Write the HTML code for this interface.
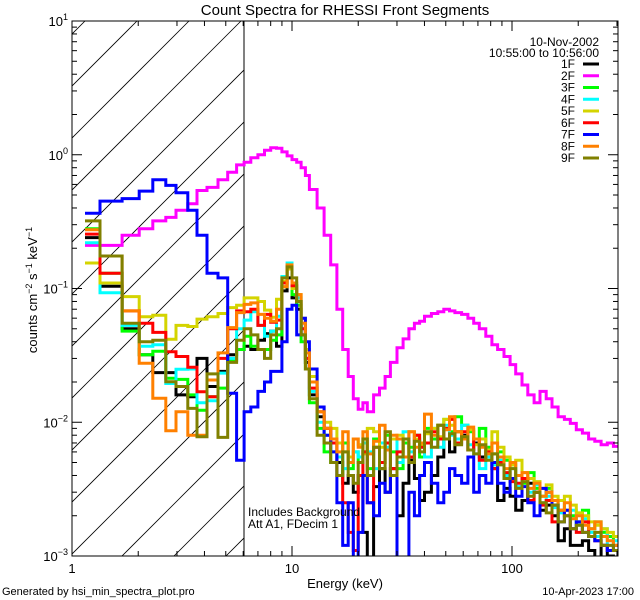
<!DOCTYPE html>
<html><head><meta charset="utf-8">
<style>
html,body{margin:0;padding:0;background:#fff;}
svg{display:block;font-family:"Liberation Sans",sans-serif;}
</style></head>
<body>
<svg id="chart" width="640" height="600" viewBox="0 0 640 600" xmlns="http://www.w3.org/2000/svg">
<defs><clipPath id="plotclip"><rect x="72" y="21" width="546" height="535"/></clipPath>
<clipPath id="hatchclip"><rect x="72" y="21" width="172" height="535"/></clipPath></defs>
<g id="hatch" clip-path="url(#hatchclip)"></g>
<line x1="244" y1="21" x2="244" y2="556" stroke="#000" stroke-width="1"/>
<g id="series" clip-path="url(#plotclip)"></g>
<rect x="72" y="21" width="546" height="535" fill="none" stroke="#000" stroke-width="1"/>
<g id="ticks"></g>
<text x="345" y="15" font-size="15" text-anchor="middle">Count Spectra for RHESSI Front Segments</text>
<text x="345" y="588" font-size="13" text-anchor="middle">Energy (keV)</text>
<text transform="translate(37,290) rotate(-90)" font-size="13" text-anchor="middle">counts cm<tspan dy="-5" font-size="9">−2</tspan><tspan dy="5"> s</tspan><tspan dy="-5" font-size="9">−1</tspan><tspan dy="5"> keV</tspan><tspan dy="-5" font-size="9">−1</tspan></text>
<text x="2" y="595" font-size="11">Generated by hsi_min_spectra_plot.pro</text>
<text x="634" y="595" font-size="11" text-anchor="end">10-Apr-2023 17:00</text>
<text x="248" y="516" font-size="12">Includes Background</text>
<text x="248" y="528" font-size="12">Att A1, FDecim  1</text>
<text x="599" y="46" font-size="12" text-anchor="end">10-Nov-2002</text>
<text x="599" y="57" font-size="12" text-anchor="end">10:55:00 to 10:56:00</text>
<g id="legend"></g>
</svg>
<script>
const edges=[1.146,1.34,1.69,2.02,2.33,2.67,2.97,3.36,3.70,4.11,4.61,5.1,5.6,6.06,
6.5,7,7.5,8,8.5,9,9.5,10,10.5,11,11.5,12,13,14,15,16,17,18,19,20,
21,22,23.5,25,26.5,28,30,32,34,36,38,40,43,46,49,52,55,59,63,67,71,76,81,86,92,98,104,111,118,126,134,143,152,162,173,184,196,209,223,238,254,271,289,308,330];
const seriesNames=["1F","2F","3F","4F","5F","6F","7F","8F","9F"];
const seriesColors=["#000000","#ff00ff","#00ff00","#00ffff","#d4d400","#ff0000","#0000ff","#ff8000","#808000"];
const v1F=[0.24,0.104,0.05,0.032,0.0235,0.0235,0.016,0.0155,0.030,0.0185,0.024,0.032,0.035,
0.037,0.035,0.041,0.046,0.048,0.037,0.096,0.12,0.085,0.07,0.045,0.028,0.016,0.011,0.009,0.007,0.005,0.0035,0.004,0.003,
0.004,0.0015,0.0009,0.0033,0.0045,0.003,0.0045,0.002,0.0035,0.0052,0.0038,0.0026,0.003,0.004,0.0055,0.0075,0.006,0.0085,0.008,0.0062,0.007,0.0055,0.0062,0.0045,0.0026,0.0032,0.0028,0.0022,0.0026,0.0035,0.003,0.0022,0.0024,0.002,0.0013,0.0016,0.0012,0.0012,0.0013,0.0011,0.0009,0.0012,0.001,0.0009,0.0008];
const v2F=[0.21,0.21,0.25,0.28,0.32,0.34,0.385,0.43,0.54,0.57,0.65,0.74,0.84,
0.88,0.95,1.0,1.08,1.13,1.12,1.05,0.98,0.92,0.88,0.8,0.7,0.55,0.4,0.25,0.15,0.07,0.035,0.022,0.015,
0.0125,0.014,0.012,0.016,0.018,0.022,0.028,0.036,0.042,0.05,0.055,0.057,0.062,0.065,0.067,0.07,0.068,0.066,0.064,0.06,0.055,0.05,0.044,0.038,0.035,0.031,0.027,0.023,0.019,0.016,0.014,0.017,0.015,0.013,0.011,0.0105,0.0098,0.0088,0.0083,0.0075,0.0072,0.0068,0.0070,0.0066,0.0062];
const v3F=[0.28,0.13,0.048,0.032,0.034,0.0213,0.0209,0.016,0.0123,0.0155,0.018,0.029,0.035,
0.044,0.037,0.035,0.035,0.041,0.045,0.103,0.14,0.09,0.075,0.04,0.025,0.014,0.009,0.006,0.005,0.004,0.007,0.0045,0.006,
0.005,0.006,0.0045,0.0075,0.005,0.008,0.006,0.0045,0.007,0.0065,0.008,0.0055,0.009,0.0075,0.0095,0.0105,0.0085,0.011,0.0095,0.0085,0.0075,0.009,0.0065,0.0058,0.006,0.0052,0.0048,0.004,0.0035,0.0042,0.0032,0.0028,0.0032,0.0024,0.0026,0.0022,0.002,0.0018,0.0022,0.0016,0.0018,0.0015,0.0014,0.0012,0.0011];
const v4F=[0.22,0.093,0.053,0.037,0.038,0.0195,0.0249,0.025,0.014,0.0145,0.0233,0.030,0.050,
0.058,0.067,0.053,0.044,0.048,0.062,0.123,0.155,0.105,0.085,0.05,0.03,0.017,0.01,0.008,0.006,0.0055,0.0045,0.005,0.006,
0.0055,0.007,0.006,0.0045,0.007,0.0065,0.0075,0.005,0.0085,0.006,0.0075,0.0065,0.0055,0.009,0.0065,0.0095,0.008,0.0075,0.0095,0.0068,0.0058,0.0045,0.0055,0.0048,0.0052,0.004,0.0045,0.0033,0.0038,0.003,0.0034,0.0025,0.0028,0.0023,0.0021,0.002,0.0022,0.0017,0.0019,0.0015,0.0014,0.0016,0.0012,0.0013,0.0011];
const v5F=[0.155,0.11,0.087,0.0615,0.063,0.0417,0.053,0.052,0.059,0.0615,0.065,0.072,0.075,
0.085,0.085,0.08,0.069,0.061,0.083,0.113,0.14,0.1,0.09,0.06,0.035,0.022,0.013,0.01,0.009,0.007,0.006,0.0055,0.0075,
0.0068,0.0058,0.009,0.0085,0.0065,0.007,0.0075,0.008,0.0055,0.0085,0.0075,0.0068,0.0082,0.009,0.0078,0.0105,0.0095,0.0085,0.0078,0.0088,0.0068,0.0075,0.0062,0.0085,0.0065,0.0055,0.0048,0.0052,0.0042,0.0038,0.0036,0.0032,0.0034,0.0028,0.0026,0.0028,0.0024,0.0021,0.002,0.0018,0.0017,0.0016,0.0015,0.0014,0.0012];
const v6F=[0.255,0.13,0.068,0.055,0.047,0.0337,0.031,0.0258,0.0169,0.0155,0.030,0.050,0.068,
0.067,0.07,0.053,0.064,0.056,0.058,0.11,0.145,0.105,0.08,0.05,0.03,0.018,0.012,0.009,0.007,0.004,0.0025,0.0015,0.0011,
0.004,0.006,0.0025,0.0065,0.005,0.007,0.0045,0.006,0.0075,0.0055,0.008,0.0065,0.007,0.0085,0.0075,0.009,0.0105,0.007,0.0085,0.0062,0.0075,0.0052,0.006,0.0045,0.005,0.0042,0.0036,0.0035,0.0038,0.0026,0.003,0.0024,0.0026,0.0018,0.0022,0.002,0.0016,0.0015,0.0018,0.0014,0.0013,0.0012,0.0011,0.0011,0.001];
const v7F=[0.365,0.45,0.47,0.535,0.65,0.59,0.52,0.385,0.25,0.13,0.12,0.0165,0.0052,
0.012,0.013,0.017,0.02,0.024,0.024,0.04,0.07,0.075,0.045,0.06,0.04,0.025,0.013,0.008,0.006,0.0025,0.0012,0.0025,0.0009,
0.0015,0.004,0.0025,0.002,0.0035,0.003,0.004,0.0009,0.0008,0.003,0.002,0.004,0.005,0.0035,0.0025,0.003,0.0045,0.004,0.0035,0.0055,0.003,0.004,0.0035,0.005,0.0035,0.003,0.0038,0.0028,0.0033,0.0025,0.002,0.0032,0.003,0.0024,0.0018,0.0022,0.0016,0.0018,0.0015,0.0014,0.0013,0.0012,0.0011,0.0012,0.001];
const v8F=[0.275,0.175,0.068,0.0276,0.0151,0.00865,0.012,0.008,0.008,0.0207,0.033,0.051,0.066,
0.076,0.078,0.064,0.06,0.057,0.07,0.103,0.15,0.11,0.09,0.055,0.033,0.02,0.012,0.009,0.0075,0.006,0.0085,0.005,0.0075,
0.0065,0.0085,0.0058,0.0072,0.0095,0.0062,0.008,0.0075,0.0055,0.0085,0.0065,0.007,0.0115,0.008,0.0095,0.0088,0.011,0.0085,0.0075,0.0092,0.0075,0.0065,0.0058,0.007,0.0055,0.0045,0.005,0.004,0.0042,0.0032,0.0035,0.0028,0.003,0.0026,0.0022,0.0025,0.0019,0.002,0.0017,0.0016,0.0018,0.0014,0.0013,0.0012,0.0011];
const v9F=[0.32,0.175,0.055,0.040,0.041,0.0201,0.0185,0.0127,0.0078,0.023,0.0077,0.028,0.041,
0.05,0.045,0.035,0.03,0.045,0.05,0.12,0.145,0.12,0.08,0.045,0.025,0.015,0.008,0.007,0.005,0.004,0.006,0.004,0.0035,
0.005,0.0075,0.004,0.0065,0.0045,0.0085,0.004,0.0055,0.0075,0.005,0.0072,0.006,0.0085,0.0065,0.0095,0.0075,0.0082,0.0068,0.0078,0.0062,0.0058,0.0068,0.0052,0.0058,0.0048,0.0038,0.0045,0.0032,0.0036,0.0028,0.003,0.0025,0.0021,0.0024,0.0018,0.002,0.0016,0.0017,0.0015,0.0014,0.0015,0.0012,0.0012,0.0011,0.001];
const xTickValues=[1,10,100];
const xTickLabels=["1","10","100"];
const yTickExps=[-3,-2,-1,0,1];

const NS="http://www.w3.org/2000/svg";
const PL=72,PR=618,PT=21,PB=556,XMIN=1,XMAX=Math.pow(10,(PR-PL)/220);
function xs(e){return PL+(Math.log10(e)-Math.log10(XMIN))/(Math.log10(XMAX)-Math.log10(XMIN))*(PR-PL);}
function ys(v){return PT+(1-Math.log10(Math.max(v,1e-5)))/4*(PB-PT);}
function mk(tag,attrs,parent){const el=document.createElementNS(NS,tag);for(const k in attrs)el.setAttribute(k,attrs[k]);parent.appendChild(el);return el;}

// hatch
const hatch=document.getElementById('hatch');
for(let c=54;c<820;c+=52){
  const l=mk('line',{x1:c-PT-600,y1:PT+600,x2:c-PT,y2:PT,stroke:'#000','stroke-width':0.8},hatch);
  
  
}

// series
const allVals=[v1F,v2F,v3F,v4F,v5F,v6F,v7F,v8F,v9F];
const sg=document.getElementById('series');
allVals.forEach((vals,i)=>{
  let d='';
  for(let b=0;b<vals.length;b++){
    const x0=xs(edges[b]).toFixed(1),x1=xs(edges[b+1]).toFixed(1),y=ys(vals[b]).toFixed(1);
    d+=(b===0?'M':'L')+x0+','+y+'L'+x1+','+y;
  }
  const p=mk('path',{d:d,fill:'none',stroke:seriesColors[i],'stroke-width':3,'stroke-linejoin':'miter'},sg);
  
  
});

// ticks
const tg=document.getElementById('ticks');
for(let k=0;k<=2;k++){
  for(let m=1;m<=9;m++){
    const e=m*Math.pow(10,k);
    if(e>XMAX)break;
    const x=xs(e),len=(m===1)?10:5;
    const t1=mk('line',{x1:x,y1:PB,x2:x,y2:PB-len,stroke:'#000'},tg);
    
    
    const t2=mk('line',{x1:x,y1:PT,x2:x,y2:PT+len,stroke:'#000'},tg);
    
    
  }
}
xTickValues.forEach((v,i)=>{
  const t=mk('text',{x:xs(v),y:PB+17,'font-size':13,'text-anchor':'middle'},tg);
  t.textContent=xTickLabels[i];
  
  
});
yTickExps.forEach(ex=>{
  for(let m=1;m<=9;m++){
    if(ex===1&&m>1)break;
    const v=m*Math.pow(10,ex),y=ys(v),len=(m===1)?10:5;
    const a=mk('line',{x1:PL,y1:y,x2:PL+len,y2:y,stroke:'#000'},tg);
    
    
    const b=mk('line',{x1:PR,y1:y,x2:PR-len,y2:y,stroke:'#000'},tg);
    
    
  }
  const t=mk('text',{x:PL-4,y:ys(Math.pow(10,ex))+5,'font-size':13,'text-anchor':'end'},tg);
  
  
  const base=document.createElementNS(NS,'tspan');base.textContent='10';t.appendChild(base);
  const sup=document.createElementNS(NS,'tspan');sup.setAttribute('dy','-6');sup.setAttribute('font-size','9');
  sup.textContent=(ex<0?'−':'')+Math.abs(ex);t.appendChild(sup);
});

// legend
const lg=document.getElementById('legend');
seriesNames.forEach((n,i)=>{
  const y=64+i*11.75;
  const g=mk('g',{},lg);
  
  
  const t=mk('text',{x:575,y:y+4,'font-size':12,'text-anchor':'end'},g);
  t.textContent=n;
  mk('line',{x1:583,y1:y,x2:599,y2:y,stroke:seriesColors[i],'stroke-width':3},g);
});
</script>
</body></html>
